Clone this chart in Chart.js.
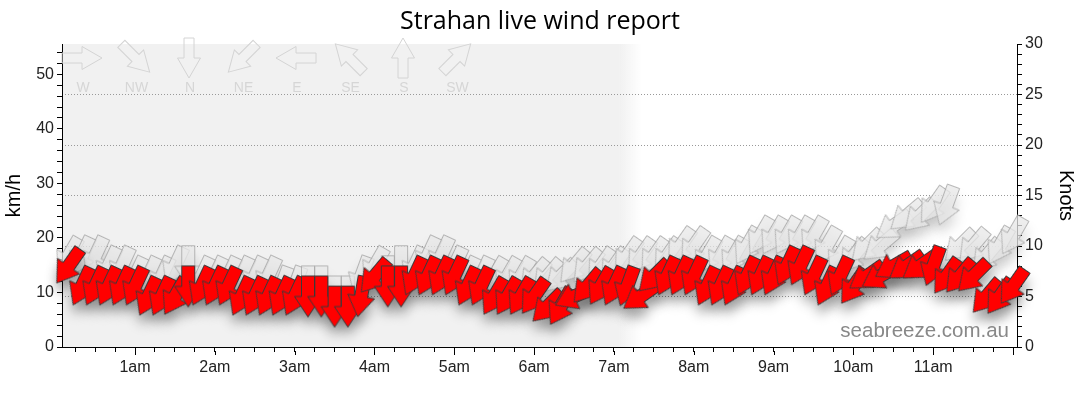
<!DOCTYPE html>
<html>
<head>
<meta charset="utf-8">
<title>Strahan live wind report</title>
<script src="https://cdn.jsdelivr.net/npm/chart.js@4.4.1/dist/chart.umd.min.js"></script>
<style>
  html, body { margin: 0; padding: 0; background: #fff; }
  #wrap { width: 1080px; height: 414px; }
</style>
</head>
<body>
<div id="wrap"><canvas id="wind-chart" width="1080" height="414"></canvas></div>
<script>
(function() {
  'use strict';

  /* ---- data: 10 minute observations, speeds in knots, directions in degrees (from) ---- */
  var TIMES = [
    '0:10', '0:20', '0:30', '0:40', '0:50', '1:00',
    '1:10', '1:20', '1:30', '1:40', '1:50', '2:00',
    '2:10', '2:20', '2:30', '2:40', '2:50', '3:00',
    '3:10', '3:20', '3:30', '3:40', '3:50', '4:00',
    '4:10', '4:20', '4:30', '4:40', '4:50', '5:00',
    '5:10', '5:20', '5:30', '5:40', '5:50', '6:00',
    '6:10', '6:20', '6:30', '6:40', '6:50', '7:00',
    '7:10', '7:20', '7:30', '7:40', '7:50', '8:00',
    '8:10', '8:20', '8:30', '8:40', '8:50', '9:00',
    '9:10', '9:20', '9:30', '9:40', '9:50', '10:00',
    '10:10', '10:20', '10:30', '10:40', '10:50', '11:00',
    '11:10', '11:20', '11:30', '11:40', '11:50', '12:00'
  ];
  var SPEED = [
    8, 6, 6, 6, 6, 6,
    5, 5, 5, 6, 6, 6,
    6, 5, 5, 5, 5, 5,
    5, 5, 4, 4, 5, 7,
    6, 6, 7, 7, 7, 7,
    6, 6, 5, 5, 5, 5,
    4, 4, 5, 6, 6, 6,
    6, 5, 7, 7, 7, 7,
    6, 6, 6, 7, 7, 7,
    8, 8, 7, 6, 7, 6,
    7, 7, 8, 8, 8, 8,
    7, 7, 7, 5, 5, 6
  ];
  var DIR = [
    35, 25, 25, 25, 25, 25,
    25, 25, 30, 0, 25, 25,
    25, 25, 25, 25, 25, 25,
    0, 0, 0, 0, 10, 40,
    0, 0, 25, 25, 25, 25,
    25, 25, 30, 30, 30, 35,
    45, 30, 65, 40, 30, 25,
    20, 55, 45, 25, 25, 25,
    25, 25, 25, 25, 25, 25,
    25, 25, 25, 25, 25, 35,
    55, 60, 60, 55, 55, 20,
    35, 40, 45, 40, 35, 35
  ];
  var GUST = [
    9, 9, 9, 8, 8, 7,
    7, 7, 8, 8, 7, 7,
    7, 7, 7, 7, 6, 6,
    6, 6, 5, 5, 7, 8,
    7, 8, 8, 9, 9, 8,
    7, 7, 7, 7, 7, 7,
    7, 7, 8, 8, 8, 8,
    9, 9, 9, 9, 10, 10,
    9, 9, 9, 10, 11, 11,
    11, 11, 11, 10, 9, 9,
    10, 10, 12, 13, 13, 14,
    14, 10, 10, 9, 10, 11
  ];
  var GUST_DIR = [
    30, 25, 25, 25, 25, 25,
    25, 25, 25, 0, 25, 25,
    25, 25, 25, 25, 20, 20,
    0, 0, 0, 0, 20, 30,
    0, 0, 25, 25, 25, 25,
    25, 25, 30, 30, 30, 40,
    40, 45, 40, 40, 35, 35,
    35, 35, 35, 35, 35, 35,
    30, 30, 30, 30, 30, 30,
    30, 30, 30, 30, 30, 40,
    45, 50, 55, 50, 45, 35,
    20, 45, 40, 40, 30, 30
  ];

  var HOUR_LABELS = ['1am', '2am', '3am', '4am', '5am', '6am', '7am', '8am', '9am', '10am', '11am'];
  var COMPASS_LABELS = ['W', 'NW', 'N', 'NE', 'E', 'SE', 'S', 'SW'];
  var COMPASS_DIRS = [270, 315, 0, 45, 90, 135, 180, 225];

  var SUNRISE = 7.2;          // night shading ends here (hours)
  var X_MIN = 0.085;
  var X_MAX = 12.05;
  var KNOTS_MAX = 30;
  var KMH_PER_KNOT = 1.852;

  var FONT = '"Liberation Sans", Arial, sans-serif';
  var TEXT = '#222';

  function toHours(t) {
    var p = t.split(':');
    return +p[0] + (+p[1]) / 60;
  }

  function points(values) {
    return TIMES.map(function(t, i) { return { x: toHours(t), y: values[i] }; });
  }

  // arrow pointing down, centred on 0,0
  function arrowPath(g, len, shaftW, headW) {
    var h = len / 2;
    g.beginPath();
    g.moveTo(-shaftW / 2, -h);
    g.lineTo(shaftW / 2, -h);
    g.lineTo(shaftW / 2, 0);
    g.lineTo(headW / 2, 0);
    g.lineTo(0, h);
    g.lineTo(-headW / 2, 0);
    g.lineTo(-shaftW / 2, 0);
    g.closePath();
  }

  function makeArrow(fill, stroke, blur) {
    var pad = blur ? blur * 3 : 3;
    var size = 42 + pad * 2;
    var c = document.createElement('canvas');
    c.width = c.height = size;
    var g = c.getContext('2d');
    g.translate(size / 2, size / 2);
    if (blur) g.filter = 'blur(' + blur + 'px)';
    arrowPath(g, 41, 13, 27);
    g.fillStyle = fill;
    g.fill();
    if (stroke) {
      g.lineWidth = 1;
      g.strokeStyle = stroke;
      g.stroke();
    }
    return c;
  }

  var redArrow   = makeArrow('#ff0000', '#3a3a3a');
  var redShadow  = makeArrow('rgba(0,0,0,0.32)', null, 6);
  var gustArrow  = makeArrow('rgba(232,232,232,0.75)', 'rgba(160,160,160,0.75)');
  var gustShadow = makeArrow('rgba(0,0,0,0.13)', null, 6);

  var quarterTicks = [];
  for (var q = 1; q <= 48; q++) quarterTicks.push(q / 4);
  var kmhTicks = [];
  for (var k = 0; k <= 54; k += 2) kmhTicks.push(k);
  var knotTicks = [];
  for (var n = 0; n <= KNOTS_MAX; n++) knotTicks.push(n);

  function setTicks(list) {
    return function(scale) {
      scale.ticks = list.map(function(v) { return { value: v }; });
    };
  }

  /* ---- plugins ---- */
  var nightShade = {
    id: 'nightShade',
    beforeDraw: function(chart) {
      var a = chart.chartArea, ctx = chart.ctx;
      var xEnd = chart.scales.x.getPixelForValue(SUNRISE);
      ctx.save();
      ctx.fillStyle = '#f1f1f1';
      ctx.fillRect(a.left, a.top, xEnd - 10 - a.left, a.bottom - a.top);
      var grad = ctx.createLinearGradient(xEnd - 10, 0, xEnd + 12, 0);
      grad.addColorStop(0, 'rgba(241,241,241,1)');
      grad.addColorStop(1, 'rgba(241,241,241,0)');
      ctx.fillStyle = grad;
      ctx.fillRect(xEnd - 10, a.top, 22, a.bottom - a.top);
      ctx.restore();
    }
  };

  var compassKey = {
    id: 'compassKey',
    beforeDatasetsDraw: function(chart) {
      var a = chart.chartArea, ctx = chart.ctx;
      ctx.save();
      COMPASS_LABELS.forEach(function(lab, i) {
        var cx = a.left + 20 + i * 53.5;
        var cy = a.top + 14;
        ctx.save();
        ctx.translate(cx, cy);
        ctx.rotate(COMPASS_DIRS[i] * Math.PI / 180);
        arrowPath(ctx, 40, 10, 23);
        ctx.lineWidth = 1;
        ctx.strokeStyle = '#d4d4d4';
        ctx.stroke();
        ctx.restore();
        ctx.fillStyle = '#d6d6d6';
        ctx.font = '14px ' + FONT;
        ctx.textAlign = 'center';
        ctx.textBaseline = 'middle';
        ctx.fillText(lab, cx + 1, a.top + 44);
      });
      ctx.restore();
    }
  };

  var shadowShift = {
    id: 'shadowShift',
    beforeDatasetDraw: function(chart, args) {
      if (chart.data.datasets[args.index].shadow) {
        chart.ctx.save();
        chart.ctx.translate(0, 10);
      }
    },
    afterDatasetDraw: function(chart, args) {
      if (chart.data.datasets[args.index].shadow) chart.ctx.restore();
    }
  };

  var hourTicks = {
    id: 'hourTicks',
    afterDraw: function(chart) {
      var x = chart.scales.x, ctx = chart.ctx, b = chart.chartArea.bottom;
      ctx.save();
      ctx.strokeStyle = '#000';
      ctx.lineWidth = 1;
      ctx.beginPath();
      for (var h = 1; h <= 12; h++) {
        var px = Math.round(x.getPixelForValue(h)) + 0.5;
        ctx.moveTo(px, b + 4);
        ctx.lineTo(px, b + 8);
      }
      ctx.stroke();
      ctx.restore();
    }
  };

  var watermark = {
    id: 'watermark',
    afterDatasetsDraw: function(chart) {
      var a = chart.chartArea, ctx = chart.ctx;
      ctx.save();
      ctx.font = '20.5px ' + FONT;
      ctx.fillStyle = '#888';
      ctx.textAlign = 'right';
      ctx.textBaseline = 'alphabetic';
      ctx.fillText('seabreeze.com.au', a.right - 8, a.bottom - 10);
      ctx.restore();
    }
  };

  var ctx = document.getElementById('wind-chart');

  new Chart(ctx, {
    type: 'scatter',
    data: {
      datasets: [
        {
          label: 'Wind speed',
          data: points(SPEED),
          yAxisID: 'kn',
          pointStyle: redArrow,
          pointRotation: DIR,
          pointRadius: 20,
          clip: false,
          order: 0
        },
        {
          label: 'Wind speed shadow',
          data: points(SPEED),
          yAxisID: 'kn',
          pointStyle: redShadow,
          pointRotation: DIR,
          pointRadius: 20,
          clip: false,
          shadow: true,
          order: 1
        },
        {
          label: 'Gust',
          data: points(GUST),
          yAxisID: 'kn',
          pointStyle: gustArrow,
          pointRotation: GUST_DIR,
          pointRadius: 20,
          clip: false,
          order: 2
        },
        {
          label: 'Gust shadow',
          data: points(GUST),
          yAxisID: 'kn',
          pointStyle: gustShadow,
          pointRotation: GUST_DIR,
          pointRadius: 20,
          clip: false,
          shadow: true,
          order: 3
        }
      ]
    },
    options: {
      responsive: false,
      animation: false,
      events: [],
      layout: { padding: 0 },
      plugins: {
        legend: { display: false },
        tooltip: { enabled: false },
        title: {
          display: true,
          text: 'Strahan live wind report',
          color: '#000',
          font: { family: '"Open Sans", sans-serif', size: 25, weight: 'normal' },
          padding: { top: 7, bottom: 7 }
        }
      },
      scales: {
        x: {
          type: 'linear',
          position: 'bottom',
          min: X_MIN,
          max: X_MAX,
          afterBuildTicks: setTicks(quarterTicks),
          afterFit: function(s) { s.height = 67; },
          border: { color: '#000', width: 1 },
          grid: { drawOnChartArea: false, tickLength: 5, tickColor: '#000' },
          ticks: {
            autoSkip: false,
            maxRotation: 0,
            padding: 6,
            color: TEXT,
            font: { family: FONT, size: 16 },
            callback: function(v) {
              return (v % 1 === 0 && v >= 1 && v <= HOUR_LABELS.length) ? HOUR_LABELS[v - 1] : '';
            }
          }
        },
        kmh: {
          type: 'linear',
          position: 'left',
          min: 0,
          max: KNOTS_MAX * KMH_PER_KNOT,
          afterBuildTicks: setTicks(kmhTicks),
          afterFit: function(s) { s.width = 62; },
          border: { color: '#000', width: 1 },
          grid: { drawOnChartArea: false, tickLength: 5, tickColor: '#000' },
          title: {
            display: true,
            text: 'km/h',
            color: '#000',
            font: { family: FONT, size: 20 },
            padding: { top: 2, bottom: 0 }
          },
          ticks: {
            autoSkip: false,
            padding: 3,
            color: TEXT,
            font: { family: FONT, size: 16 },
            callback: function(v) { return v % 10 === 0 ? v : ''; }
          }
        },
        kn: {
          type: 'linear',
          position: 'right',
          min: 0,
          max: KNOTS_MAX,
          afterBuildTicks: setTicks(knotTicks),
          afterFit: function(s) { s.width = 63; },
          border: { color: '#000', width: 1, dash: [1, 2] },
          grid: {
            tickLength: 5,
            tickColor: '#000',
            color: function(c) {
              var v = c.tick && c.tick.value;
              return (v % 5 === 0 && v > 0 && v < KNOTS_MAX) ? '#999' : 'rgba(0,0,0,0)';
            }
          },
          title: {
            display: true,
            text: 'Knots',
            color: '#000',
            font: { family: FONT, size: 20 },
            padding: { top: 2, bottom: 0 }
          },
          ticks: {
            autoSkip: false,
            padding: 3,
            color: TEXT,
            font: { family: FONT, size: 16 },
            callback: function(v) { return v % 5 === 0 ? v : ''; }
          }
        }
      }
    },
    plugins: [nightShade, compassKey, shadowShift, hourTicks, watermark]
  });
})();
</script>
</body>
</html>
